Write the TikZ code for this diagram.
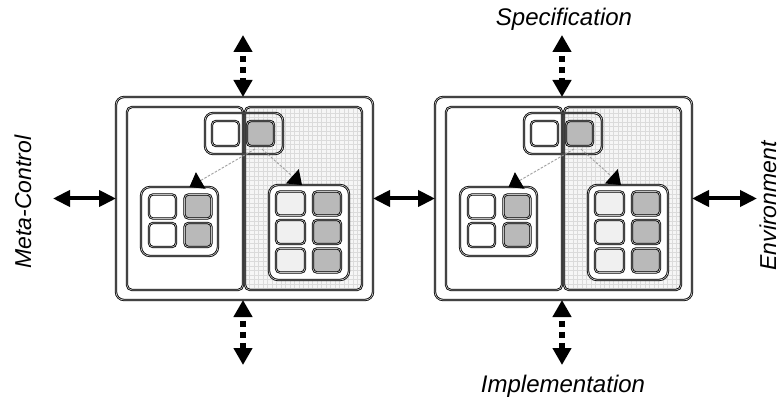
\documentclass[tikz,border=0pt]{standalone}
\usepackage{fontspec}
\setmainfont{Liberation Sans}
\usetikzlibrary{arrows.meta}
\tikzset{
  bord/.style={draw=black, line width=0.8pt, double=gray!50, double distance=0.7pt},
  shp/.style={rectangle, inner sep=0pt, outer sep=0pt},
  outerbox/.style={shp, bord, fill=white, rounded corners=8pt, minimum width=257pt, minimum height=203pt},
  panel/.style={shp, bord, rounded corners=5pt, minimum width=116pt, minimum height=183pt},
  grp/.style={shp, bord, rounded corners=9pt},
  sq/.style={shp, bord, rounded corners=4pt, minimum width=27pt, minimum height=24pt},
  wsq/.style={sq, fill=white},
  lsq/.style={sq, fill=gray!12},
  gsq/.style={sq, fill=gray!55},
  dotarrow/.style={line width=6pt, dash pattern=on 6pt off 5pt, dash phase=6pt,
     {Triangle[length=17pt,width=18pt]}-{Triangle[length=17pt,width=18pt]}},
  solidarrow/.style={line width=4pt,
     {Triangle[length=17pt,width=16pt]}-{Triangle[length=17pt,width=16pt]}},
  dasharrow/.style={draw=gray!75, line width=0.9pt, dash pattern=on 2.5pt off 1.5pt,
     -{Triangle[length=13pt,width=19pt,fill=black,color=black]}},
  lbl/.style={inner sep=0pt, font=\fontsize{24}{28}\selectfont\itshape},
  vlbl/.style={inner sep=0pt, rotate=90, font=\fontsize{23}{28}\selectfont\itshape},
  gridbg/.style={path picture={\draw[gray!28, line width=0.3pt, step=4.5pt]
     (path picture bounding box.south west) grid (path picture bounding box.north east);}}
}
\newcommand{\drawmodule}[2]{%
\begin{scope}[xshift=#2pt]
  \node[outerbox] (#1o) at (244.5,198.5) {};
  \node[panel, fill=white] (#1l) at (185,198.5) {};
  \node[panel, minimum width=117pt, fill=gray!7, gridbg] (#1r) at (303.5,198.5) {};
  % top component
  \node[grp, rounded corners=8pt, minimum width=78pt, minimum height=41pt] (#1t) at (244,133.5) {};
  \node[wsq, minimum height=25pt] (#1t1) at (225.5,133.5) {};
  \node[gsq, minimum height=25pt] (#1t2) at (260.5,133.5) {};
  % left group
  \node[grp, fill=white, minimum width=77pt, minimum height=69pt] (#1g) at (179.5,221.5) {};
  \node[wsq] (#1g11) at (162.5,206.5) {};
  \node[gsq] (#1g12) at (198,206.5) {};
  \node[wsq] (#1g21) at (162.5,235) {};
  \node[gsq] (#1g22) at (198,235) {};
  % right group
  \node[grp, fill=white, minimum width=80pt, minimum height=95pt] (#1h) at (309,232.5) {};
  \node[lsq, minimum width=29pt] (#1h11) at (290.5,203.5) {};
  \node[gsq, minimum width=28pt] (#1h12) at (327,203.5) {};
  \node[lsq, minimum width=29pt] (#1h21) at (290.5,232) {};
  \node[gsq, minimum width=28pt] (#1h22) at (327,232) {};
  \node[lsq, minimum width=29pt] (#1h31) at (290.5,260.5) {};
  \node[gsq, minimum width=28pt] (#1h32) at (327,260.5) {};
  % internal dashed arrows
  \coordinate (#1s1) at (255,149);
  \coordinate (#1s2) at (262,149);
  \draw[dasharrow] (#1s1) -- ([xshift=10pt]#1g.north);
  \draw[dasharrow] (#1s2) -- ([xshift=-7pt]#1h.north);
  % vertical dotted arrows
  \coordinate (#1up) at (243,35);
  \coordinate (#1dn) at (243,365);
  \draw[dotarrow] (#1up) -- (#1up |- #1o.north);
  \draw[dotarrow] (#1dn |- #1o.south) -- (#1dn);
\end{scope}}
\begin{document}
\begin{tikzpicture}[x=1pt, y=-1pt]
  \useasboundingbox[fill=white] (0,0) rectangle (782,398);
  \drawmodule{A}{0}
  \drawmodule{B}{319}
  \coordinate (mc) at (53,198.5);
  \coordinate (env) at (757,198.5);
  \draw[solidarrow] (mc) -- (Ao.west);
  \draw[solidarrow] (Ao.east) -- (Bo.west);
  \draw[solidarrow] (Bo.east) -- (env);
  \node[lbl, anchor=base] (spec) at (564,26) {Specification};
  \node[lbl, anchor=base] (impl) at (563,392) {Implementation};
  \node[vlbl] (meta) at (23,202) {Meta-Control};
  \node[vlbl, anchor=base] (envl) at (776,206) {Environment};
\end{tikzpicture}
\end{document}
